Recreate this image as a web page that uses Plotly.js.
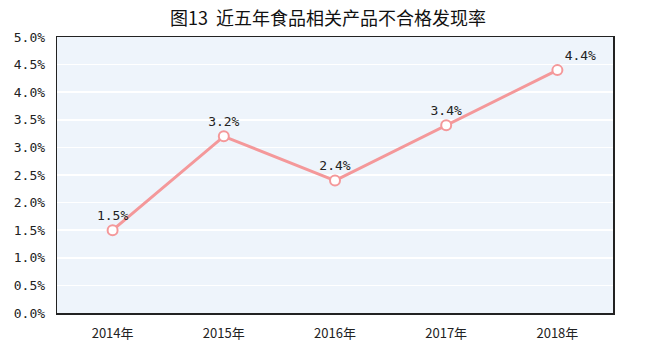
<!DOCTYPE html>
<html>
<head>
<meta charset="utf-8">
<script src="https://cdn.plot.ly/plotly-3.0.1.min.js"></script>
<style>html,body{margin:0;padding:0;background:#fff;}#chart{width:656px;height:353px;}</style>
</head>
<body>
<div id="chart"></div>
<script>
const years = ["2014年", "2015年", "2016年", "2017年", "2018年"];
const rates = [1.5, 3.2, 2.4, 3.4, 4.4];
const labels = ["1.5%", "3.2%", "2.4%", "3.4%", "4.4%"];
const labelPos = ["top center", "top center", "top center", "top center", "top right"];
const yTicks = [0, 0.5, 1, 1.5, 2, 2.5, 3, 3.5, 4, 4.5, 5];
const yTickText = ["0.0%", "0.5%", "1.0%", "1.5%", "2.0%", "2.5%", "3.0%", "3.5%", "4.0%", "4.5%", "5.0%"];

const trace = {
  x: years, y: rates, type: "scatter", mode: "lines+markers+text",
  text: labels, textposition: labelPos,
  textfont: {family: "DejaVu Sans Mono, monospace", size: 13, color: "#222"},
  line: {color: "#f4989a", width: 3},
  marker: {size: 10, color: "#ffffff", line: {color: "#f4989a", width: 2}},
  cliponaxis: false, hoverinfo: "skip"
};

const layout = {
  width: 656, height: 353,
  margin: {l: 57, r: 43, t: 37, b: 40},
  paper_bgcolor: "#ffffff", plot_bgcolor: "#eef4fb",
  showlegend: false,
  title: {text: "图13  近五年食品相关产品不合格发现率", x: 0.5, xanchor: "center", y: 0.948, yanchor: "middle",
    font: {family: "Noto Sans CJK SC, sans-serif", size: 18, color: "#111", weight: "normal"}},
  xaxis: {type: "category", range: [-0.5, 4.5], showgrid: false, zeroline: false,
    showline: true, linecolor: "#222", linewidth: 1.5, mirror: true, ticks: "", ticklabelstandoff: 8,
    tickfont: {family: "Noto Sans CJK SC, sans-serif", size: 13, color: "#222"}},
  yaxis: {range: [0, 5], tickvals: yTicks, ticktext: yTickText.map(t => t + "\u00a0"), showgrid: true,
    gridcolor: "#ffffff", gridwidth: 1.5, zeroline: false,
    showline: true, linecolor: "#222", linewidth: 1.5, mirror: true, ticks: "",
    tickfont: {family: "DejaVu Sans Mono, monospace", size: 13, color: "#222"}}
};

Plotly.newPlot("chart", [trace], layout, {displayModeBar: false, staticPlot: true});
</script>
</body>
</html>
